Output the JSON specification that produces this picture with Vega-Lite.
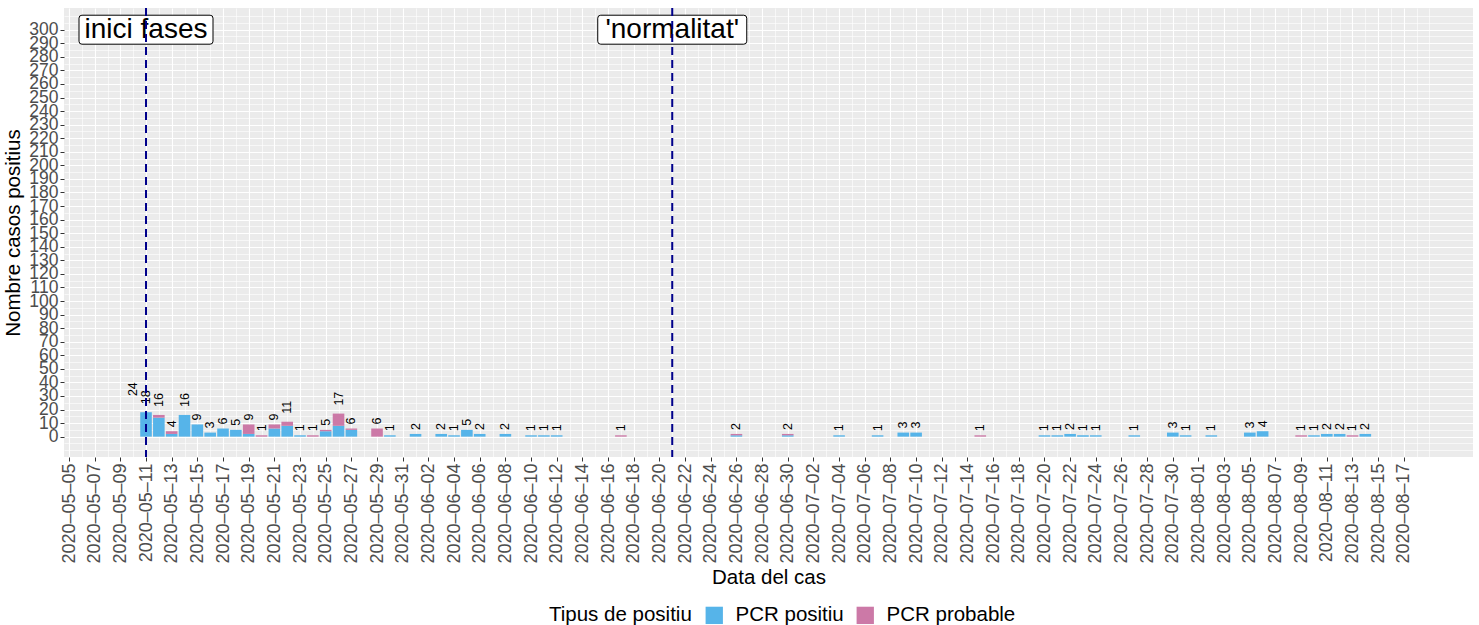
{
  "$schema": "https://vega.github.io/schema/vega-lite/v6.json",
  "width": 1409,
  "height": 449,
  "autosize": {"type": "pad"},
  "padding": {"left": 3, "top": 7, "right": 1, "bottom": 0},
  "background": "white",
  "config": {
    "view": {"fill": "#EBEBEB", "stroke": null},
    "font": "Liberation Sans",
    "axis": {
      "labelFont": "Liberation Sans",
      "titleFont": "Liberation Sans",
      "titleFontWeight": "normal",
      "titleColor": "black",
      "labelColor": "#4D4D4D",
      "tickColor": "#333333",
      "domain": false,
      "gridColor": "white",
      "labelOverlap": false,
      "tickSize": 4,
      "labelPadding": 2
    },
    "legend": {
      "orient": "none",
      "legendX": 485,
      "legendY": 597,
      "direction": "horizontal",
      "titleOrient": "left",
      "titleFont": "Liberation Sans",
      "labelFont": "Liberation Sans",
      "titleFontSize": 20.5,
      "labelFontSize": 20.5,
      "titleFontWeight": "normal",
      "titleColor": "black",
      "labelColor": "black",
      "titlePadding": 12,
      "symbolType": "square",
      "symbolSize": 300,
      "symbolStrokeWidth": 0,
      "columnPadding": 11,
      "labelOffset": 11
    }
  },
  "datasets": {
    "bars": [
      {"date": "2020-05-11", "tipus": "PCR positiu", "n": 18},
      {"date": "2020-05-12", "tipus": "PCR positiu", "n": 14},
      {"date": "2020-05-12", "tipus": "PCR probable", "n": 2},
      {"date": "2020-05-13", "tipus": "PCR positiu", "n": 2},
      {"date": "2020-05-13", "tipus": "PCR probable", "n": 2},
      {"date": "2020-05-14", "tipus": "PCR positiu", "n": 16},
      {"date": "2020-05-15", "tipus": "PCR positiu", "n": 9},
      {"date": "2020-05-16", "tipus": "PCR positiu", "n": 3},
      {"date": "2020-05-17", "tipus": "PCR positiu", "n": 6},
      {"date": "2020-05-18", "tipus": "PCR positiu", "n": 5},
      {"date": "2020-05-19", "tipus": "PCR positiu", "n": 2},
      {"date": "2020-05-19", "tipus": "PCR probable", "n": 7},
      {"date": "2020-05-20", "tipus": "PCR probable", "n": 1},
      {"date": "2020-05-21", "tipus": "PCR positiu", "n": 6},
      {"date": "2020-05-21", "tipus": "PCR probable", "n": 3},
      {"date": "2020-05-22", "tipus": "PCR positiu", "n": 8},
      {"date": "2020-05-22", "tipus": "PCR probable", "n": 3},
      {"date": "2020-05-23", "tipus": "PCR positiu", "n": 1},
      {"date": "2020-05-24", "tipus": "PCR probable", "n": 1},
      {"date": "2020-05-25", "tipus": "PCR positiu", "n": 4},
      {"date": "2020-05-25", "tipus": "PCR probable", "n": 1},
      {"date": "2020-05-26", "tipus": "PCR positiu", "n": 8},
      {"date": "2020-05-26", "tipus": "PCR probable", "n": 9},
      {"date": "2020-05-27", "tipus": "PCR positiu", "n": 5},
      {"date": "2020-05-27", "tipus": "PCR probable", "n": 1},
      {"date": "2020-05-29", "tipus": "PCR probable", "n": 6},
      {"date": "2020-05-30", "tipus": "PCR positiu", "n": 1},
      {"date": "2020-06-01", "tipus": "PCR positiu", "n": 2},
      {"date": "2020-06-03", "tipus": "PCR positiu", "n": 2},
      {"date": "2020-06-04", "tipus": "PCR positiu", "n": 1},
      {"date": "2020-06-05", "tipus": "PCR positiu", "n": 5},
      {"date": "2020-06-06", "tipus": "PCR positiu", "n": 2},
      {"date": "2020-06-08", "tipus": "PCR positiu", "n": 2},
      {"date": "2020-06-10", "tipus": "PCR positiu", "n": 1},
      {"date": "2020-06-11", "tipus": "PCR positiu", "n": 1},
      {"date": "2020-06-12", "tipus": "PCR positiu", "n": 1},
      {"date": "2020-06-17", "tipus": "PCR probable", "n": 1},
      {"date": "2020-06-26", "tipus": "PCR positiu", "n": 1},
      {"date": "2020-06-26", "tipus": "PCR probable", "n": 1},
      {"date": "2020-06-30", "tipus": "PCR positiu", "n": 1},
      {"date": "2020-06-30", "tipus": "PCR probable", "n": 1},
      {"date": "2020-07-04", "tipus": "PCR positiu", "n": 1},
      {"date": "2020-07-07", "tipus": "PCR positiu", "n": 1},
      {"date": "2020-07-09", "tipus": "PCR positiu", "n": 3},
      {"date": "2020-07-10", "tipus": "PCR positiu", "n": 3},
      {"date": "2020-07-15", "tipus": "PCR probable", "n": 1},
      {"date": "2020-07-20", "tipus": "PCR positiu", "n": 1},
      {"date": "2020-07-21", "tipus": "PCR positiu", "n": 1},
      {"date": "2020-07-22", "tipus": "PCR positiu", "n": 2},
      {"date": "2020-07-23", "tipus": "PCR positiu", "n": 1},
      {"date": "2020-07-24", "tipus": "PCR positiu", "n": 1},
      {"date": "2020-07-27", "tipus": "PCR positiu", "n": 1},
      {"date": "2020-07-30", "tipus": "PCR positiu", "n": 3},
      {"date": "2020-07-31", "tipus": "PCR positiu", "n": 1},
      {"date": "2020-08-02", "tipus": "PCR positiu", "n": 1},
      {"date": "2020-08-05", "tipus": "PCR positiu", "n": 3},
      {"date": "2020-08-06", "tipus": "PCR positiu", "n": 4},
      {"date": "2020-08-09", "tipus": "PCR probable", "n": 1},
      {"date": "2020-08-10", "tipus": "PCR positiu", "n": 1},
      {"date": "2020-08-11", "tipus": "PCR positiu", "n": 2},
      {"date": "2020-08-12", "tipus": "PCR positiu", "n": 2},
      {"date": "2020-08-13", "tipus": "PCR probable", "n": 1},
      {"date": "2020-08-14", "tipus": "PCR positiu", "n": 2}
    ],
    "totals": [
      {"date": "2020-05-10", "total": 24},
      {"date": "2020-05-11", "total": 18},
      {"date": "2020-05-12", "total": 16},
      {"date": "2020-05-13", "total": 4},
      {"date": "2020-05-14", "total": 16},
      {"date": "2020-05-15", "total": 9},
      {"date": "2020-05-16", "total": 3},
      {"date": "2020-05-17", "total": 6},
      {"date": "2020-05-18", "total": 5},
      {"date": "2020-05-19", "total": 9},
      {"date": "2020-05-20", "total": 1},
      {"date": "2020-05-21", "total": 9},
      {"date": "2020-05-22", "total": 11},
      {"date": "2020-05-23", "total": 1},
      {"date": "2020-05-24", "total": 1},
      {"date": "2020-05-25", "total": 5},
      {"date": "2020-05-26", "total": 17},
      {"date": "2020-05-27", "total": 6},
      {"date": "2020-05-29", "total": 6},
      {"date": "2020-05-30", "total": 1},
      {"date": "2020-06-01", "total": 2},
      {"date": "2020-06-03", "total": 2},
      {"date": "2020-06-04", "total": 1},
      {"date": "2020-06-05", "total": 5},
      {"date": "2020-06-06", "total": 2},
      {"date": "2020-06-08", "total": 2},
      {"date": "2020-06-10", "total": 1},
      {"date": "2020-06-11", "total": 1},
      {"date": "2020-06-12", "total": 1},
      {"date": "2020-06-17", "total": 1},
      {"date": "2020-06-26", "total": 2},
      {"date": "2020-06-30", "total": 2},
      {"date": "2020-07-04", "total": 1},
      {"date": "2020-07-07", "total": 1},
      {"date": "2020-07-09", "total": 3},
      {"date": "2020-07-10", "total": 3},
      {"date": "2020-07-15", "total": 1},
      {"date": "2020-07-20", "total": 1},
      {"date": "2020-07-21", "total": 1},
      {"date": "2020-07-22", "total": 2},
      {"date": "2020-07-23", "total": 1},
      {"date": "2020-07-24", "total": 1},
      {"date": "2020-07-27", "total": 1},
      {"date": "2020-07-30", "total": 3},
      {"date": "2020-07-31", "total": 1},
      {"date": "2020-08-02", "total": 1},
      {"date": "2020-08-05", "total": 3},
      {"date": "2020-08-06", "total": 4},
      {"date": "2020-08-09", "total": 1},
      {"date": "2020-08-10", "total": 1},
      {"date": "2020-08-11", "total": 2},
      {"date": "2020-08-12", "total": 2},
      {"date": "2020-08-13", "total": 1},
      {"date": "2020-08-14", "total": 2}
    ],
    "events": [
      {"date": "2020-05-11", "label": "inici fases"},
      {"date": "2020-06-21", "label": "'normalitat'"}
    ]
  },
  "layer": [
    {
      "data": {"name": "bars"},
      "mark": {"type": "bar", "width": 11.6},
      "encoding": {
        "x": {
          "field": "date", "type": "temporal",
          "scale": {"type": "utc", "domain": [1588636800000, 1598054400000], "nice": false},
          "axis": {
            "orient": "top", "grid": true, "gridWidth": 0.6, "labels": false, "ticks": false, "domain": false, "title": null,
            "values": [1588723200000,1588896000000,1589068800000,1589241600000,1589414400000,1589587200000,1589760000000,1589932800000,1590105600000,1590278400000,1590451200000,1590624000000,1590796800000,1590969600000,1591142400000,1591315200000,1591488000000,1591660800000,1591833600000,1592006400000,1592179200000,1592352000000,1592524800000,1592697600000,1592870400000,1593043200000,1593216000000,1593388800000,1593561600000,1593734400000,1593907200000,1594080000000,1594252800000,1594425600000,1594598400000,1594771200000,1594944000000,1595116800000,1595289600000,1595462400000,1595635200000,1595808000000,1595980800000,1596153600000,1596326400000,1596499200000,1596672000000,1596844800000,1597017600000,1597190400000,1597363200000,1597536000000,1597708800000,1597795200000]
          }
        },
        "y": {
          "field": "n", "type": "quantitative", "stack": "zero",
          "scale": {"domain": [-15, 316], "nice": false, "zero": false},
          "axis": {
            "orient": "right", "grid": true, "gridWidth": 0.6, "labels": false, "ticks": false, "domain": false, "title": null,
            "values": [-10,-5,5,15,25,35,45,55,65,75,85,95,105,115,125,135,145,155,165,175,185,195,205,215,225,235,245,255,265,275,285,295,305,310]
          }
        },
        "color": {
          "field": "tipus", "type": "nominal",
          "scale": {"domain": ["PCR positiu", "PCR probable"], "range": ["#56B4E9", "#CC79A7"]},
          "legend": {"title": "Tipus de positiu"}
        },
        "order": {"field": "tipus", "sort": "ascending"}
      }
    },
    {
      "data": {"name": "totals"},
      "transform": [{"filter": "datum.total < 10"}],
      "mark": {"type": "text", "angle": 270, "align": "left", "baseline": "middle", "dx": 4, "fontSize": 12.5, "font": "Liberation Sans", "color": "black"},
      "encoding": {
        "x": {
          "field": "date", "type": "temporal",
          "axis": {
            "orient": "bottom", "grid": true, "gridWidth": 1.1,
            "format": "%Y–%m–%d", "labelAngle": 270, "labelAlign": "right", "labelBaseline": "middle",
            "labelFontSize": 18, "title": "Data del cas", "titleFontSize": 20.5, "titlePadding": 4,
            "values": [1588636800000,1588809600000,1588982400000,1589155200000,1589328000000,1589500800000,1589673600000,1589846400000,1590019200000,1590192000000,1590364800000,1590537600000,1590710400000,1590883200000,1591056000000,1591228800000,1591401600000,1591574400000,1591747200000,1591920000000,1592092800000,1592265600000,1592438400000,1592611200000,1592784000000,1592956800000,1593129600000,1593302400000,1593475200000,1593648000000,1593820800000,1593993600000,1594166400000,1594339200000,1594512000000,1594684800000,1594857600000,1595030400000,1595203200000,1595376000000,1595548800000,1595721600000,1595894400000,1596067200000,1596240000000,1596412800000,1596585600000,1596758400000,1596931200000,1597104000000,1597276800000,1597449600000,1597622400000]
          }
        },
        "y": {
          "field": "total", "type": "quantitative",
          "axis": {
            "orient": "left", "grid": true, "gridWidth": 1.1, "labelFontSize": 17.5,
            "title": "Nombre casos positius", "titleFontSize": 20.5, "titlePadding": 5,
            "values": [0,10,20,30,40,50,60,70,80,90,100,110,120,130,140,150,160,170,180,190,200,210,220,230,240,250,260,270,280,290,300]
          }
        },
        "text": {"field": "total", "type": "quantitative"}
      }
    },
    {
      "data": {"name": "totals"},
      "transform": [{"filter": "datum.total >= 10"}],
      "mark": {"type": "text", "angle": 270, "align": "left", "baseline": "middle", "dx": 8, "fontSize": 12.5, "font": "Liberation Sans", "color": "black"},
      "encoding": {
        "x": {"field": "date", "type": "temporal", "axis": null},
        "y": {"field": "total", "type": "quantitative", "axis": null},
        "text": {"field": "total", "type": "quantitative"}
      }
    },
    {
      "data": {"name": "events"},
      "mark": {"type": "point", "filled": true, "fill": "white", "stroke": "black", "strokeWidth": 1, "opacity": 1, "size": 22201},
      "encoding": {
        "x": {"field": "date", "type": "temporal", "axis": null},
        "y": {"datum": 300, "type": "quantitative", "axis": null},
        "shape": {
          "field": "label", "type": "nominal", "legend": null,
          "scale": {
            "domain": ["inici fases", "'normalitat'"],
            "range": [
              "M-0.86,-0.1946 L0.86,-0.1946 Q0.8993,-0.1946 0.8993,-0.1546 L0.8993,0.1546 Q0.8993,0.1946 0.86,0.1946 L-0.86,0.1946 Q-0.8993,0.1946 -0.8993,0.1546 L-0.8993,-0.1546 Q-0.8993,-0.1946 -0.86,-0.1946 Z",
              "M-0.96,-0.1946 L0.96,-0.1946 Q1,-0.1946 1,-0.1546 L1,0.1546 Q1,0.1946 0.96,0.1946 L-0.96,0.1946 Q-1,0.1946 -1,0.1546 L-1,-0.1546 Q-1,-0.1946 -0.96,-0.1946 Z"
            ]
          }
        }
      }
    },
    {
      "data": {"name": "events"},
      "mark": {"type": "text", "align": "center", "baseline": "middle", "fontSize": 28, "font": "Liberation Sans", "color": "black"},
      "encoding": {
        "x": {"field": "date", "type": "temporal", "axis": null},
        "y": {"datum": 300, "type": "quantitative", "axis": null},
        "text": {"field": "label", "type": "nominal"}
      }
    },
    {
      "data": {"name": "events"},
      "mark": {"type": "rule", "color": "#00008B", "strokeWidth": 2, "strokeDash": [8, 5]},
      "encoding": {
        "x": {"field": "date", "type": "temporal", "axis": null}
      }
    }
  ],
  "resolve": {
    "scale": {"x": "shared", "y": "shared"},
    "axis": {"x": "independent", "y": "independent"}
  }
}
